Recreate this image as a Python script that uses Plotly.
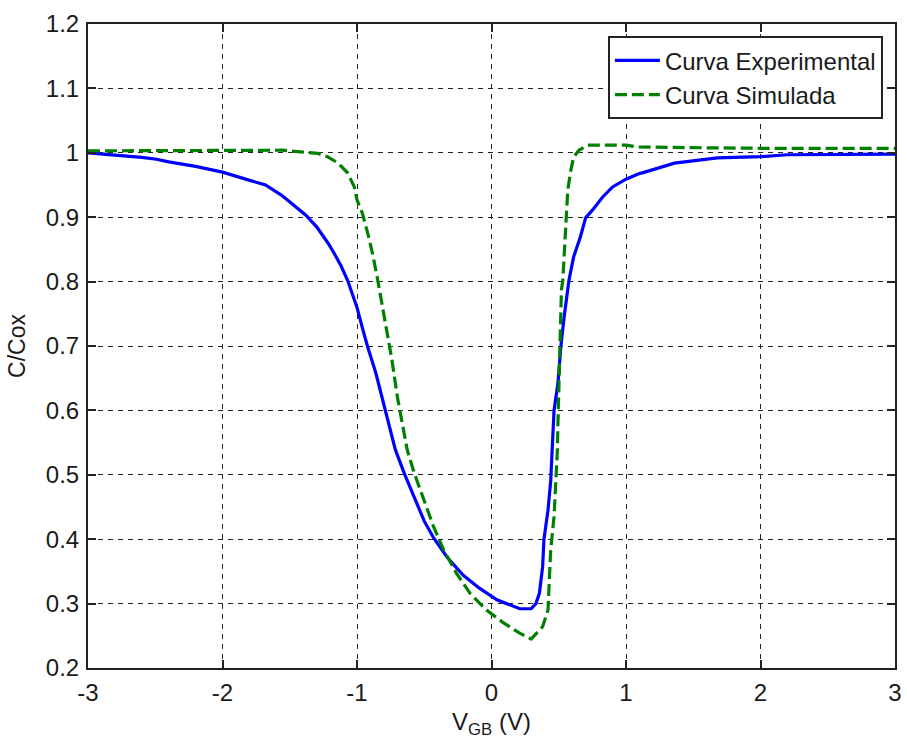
import plotly.graph_objects as go

# Experimental curve
exp_v = [-3.0, -2.8, -2.6, -2.49, -2.40, -2.2, -2.0, -1.81, -1.68, -1.56, -1.44, -1.38,
         -1.30, -1.216, -1.17, -1.12, -1.07, -1.00, -0.96, -0.92, -0.86, -0.81, -0.76,
         -0.715, -0.65, -0.575, -0.50, -0.43, -0.33, -0.21, -0.09, 0.04, 0.13, 0.21,
         0.295, 0.33, 0.356, 0.38, 0.39, 0.42, 0.44, 0.45, 0.465, 0.494, 0.516, 0.54,
         0.567, 0.576, 0.61, 0.66, 0.70, 0.75, 0.825, 0.90, 1.0, 1.09, 1.14, 1.36,
         1.68, 2.0, 2.2, 2.6, 3.0]
exp_c = [1.000, 0.997, 0.993, 0.990, 0.986, 0.979, 0.970, 0.958, 0.950, 0.934, 0.914, 0.903,
         0.885, 0.860, 0.844, 0.825, 0.802, 0.760, 0.728, 0.698, 0.658, 0.616, 0.575,
         0.539, 0.503, 0.466, 0.428, 0.402, 0.372, 0.344, 0.324, 0.306, 0.298, 0.292,
         0.292, 0.300, 0.316, 0.357, 0.400, 0.445, 0.490, 0.530, 0.600, 0.642, 0.700, 0.745,
         0.787, 0.802, 0.838, 0.869, 0.899, 0.911, 0.931, 0.947, 0.959, 0.967, 0.970, 0.984,
         0.992, 0.994, 0.997, 0.998, 0.998]

# Simulated curve
sim_v = [-3.0, -2.5, -2.0, -1.56, -1.4, -1.29, -1.22, -1.14, -1.07, -1.02, -1.00, -0.96,
         -0.92, -0.885, -0.85, -0.81, -0.77, -0.74, -0.70, -0.627, -0.575, -0.50, -0.43,
         -0.355, -0.26, -0.16, -0.037, 0.09, 0.21, 0.295, 0.38, 0.42, 0.43, 0.44, 0.465,
         0.48, 0.49, 0.494, 0.50, 0.505, 0.516, 0.52, 0.53, 0.54, 0.553, 0.567, 0.59,
         0.61, 0.65, 0.715, 1.0, 1.09, 1.5, 2.0, 3.0]
sim_c = [1.003, 1.003, 1.003, 1.004, 1.001, 0.999, 0.994, 0.984, 0.969, 0.947, 0.927, 0.906,
         0.875, 0.844, 0.807, 0.760, 0.720, 0.678, 0.621, 0.539, 0.503, 0.461, 0.419,
         0.383, 0.347, 0.316, 0.290, 0.270, 0.254, 0.245, 0.264, 0.290, 0.332, 0.383, 0.435,
         0.487, 0.539, 0.580, 0.630, 0.683, 0.735, 0.787, 0.802, 0.844, 0.900, 0.942, 0.973,
         0.993, 1.004, 1.012, 1.012, 1.009, 1.008, 1.007, 1.007]

x_ticks = [-3, -2, -1, 0, 1, 2, 3]
x_labels = ["-3", "-2", "-1", "0", "1", "2", "3"]
y_ticks = [0.2, 0.3, 0.4, 0.5, 0.6, 0.7, 0.8, 0.9, 1.0, 1.1, 1.2]
y_labels = ["0.2", "0.3", "0.4", "0.5", "0.6", "0.7", "0.8", "0.9", "1", "1.1", "1.2"]

FONT = "Liberation Sans, Arial, sans-serif"
TXT = "#1a1a1a"

fig = go.Figure()
fig.add_trace(go.Scatter(x=exp_v, y=exp_c, mode="lines", name="Curva Experimental",
                         line=dict(color="#0000FF", width=3.2)))
fig.add_trace(go.Scatter(x=sim_v, y=sim_c, mode="lines", name="Curva Simulada",
                         line=dict(color="#008000", width=3.2, dash="12px,5px")))

axis_common = dict(
    showline=True, linecolor="#222222", linewidth=2, mirror="ticks",
    ticks="inside", ticklen=8, tickwidth=1.5, tickcolor="#222222",
    showgrid=True, gridcolor="#222222", gridwidth=1.3, griddash="5px,5px",
    zeroline=False, tickfont=dict(family=FONT, size=24, color=TXT),
)

fig.update_xaxes(range=[-3, 3], tickmode="array", tickvals=x_ticks, ticktext=x_labels,
                 title=dict(text="V<sub>GB</sub> (V)", font=dict(family=FONT, size=24, color=TXT),
                            standoff=8),
                 ticklabelstandoff=2, **axis_common)
fig.update_yaxes(range=[0.2, 1.2], tickmode="array", tickvals=y_ticks, ticktext=y_labels,
                 title=dict(text="C/Cox", font=dict(family=FONT, size=23, color=TXT),
                            standoff=14),
                 ticklabelstandoff=2, **axis_common)

fig.update_layout(
    width=907, height=740,
    margin=dict(l=88, r=5, t=24, b=72),
    plot_bgcolor="white", paper_bgcolor="white",
    font=dict(family=FONT, color=TXT),
    legend=dict(x=0.985, y=0.981, xanchor="right", yanchor="top",
                bgcolor="white", bordercolor="#222222", borderwidth=2,
                font=dict(family=FONT, size=24, color=TXT),
                itemwidth=45, tracegroupgap=0),
    showlegend=True,
)

fig.write_html("out.html")
